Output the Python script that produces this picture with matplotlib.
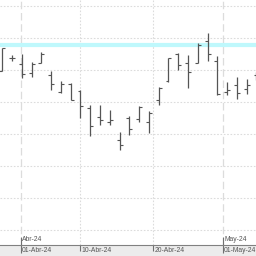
import matplotlib
matplotlib.use("Agg")
import matplotlib.pyplot as plt
from matplotlib.transforms import blended_transform_factory

# trading days (bar index -> date)
dates = ["27-Mar-24", "28-Mar-24", "02-Abr-24", "03-Abr-24", "04-Abr-24", "05-Abr-24",
         "08-Abr-24", "09-Abr-24", "10-Abr-24", "11-Abr-24", "12-Abr-24", "15-Abr-24",
         "16-Abr-24", "17-Abr-24", "18-Abr-24", "19-Abr-24", "22-Abr-24", "23-Abr-24",
         "24-Abr-24", "25-Abr-24", "26-Abr-24", "29-Abr-24", "30-Abr-24", "02-May-24",
         "03-May-24", "06-May-24", "07-May-24"]
opens  = [2.798, 2.818, 2.809, 2.795, 2.811, 2.792, 2.765, 2.778, 2.767, 2.740, 2.726,
          2.718, 2.690, 2.724, 2.723, 2.719, 2.752, 2.782, 2.825, 2.810, 2.811, 2.845,
          2.814, 2.765, 2.776, 2.770, 2.792]
highs  = [2.834, 2.823, 2.824, 2.812, 2.827, 2.798, 2.782, 2.779, 2.769, 2.745, 2.745,
          2.737, 2.702, 2.727, 2.743, 2.735, 2.773, 2.819, 2.826, 2.823, 2.841, 2.857,
          2.821, 2.780, 2.788, 2.785, 2.796]
lows   = [2.798, 2.814, 2.787, 2.789, 2.810, 2.769, 2.764, 2.752, 2.725, 2.696, 2.714,
          2.714, 2.675, 2.698, 2.719, 2.701, 2.745, 2.781, 2.800, 2.771, 2.810, 2.814,
          2.760, 2.760, 2.754, 2.762, 2.784]
closes = [2.834, 2.819, 2.793, 2.809, 2.825, 2.778, 2.778, 2.753, 2.743, 2.712, 2.721,
          2.721, 2.683, 2.707, 2.741, 2.732, 2.771, 2.818, 2.807, 2.796, 2.839, 2.825,
          2.762, 2.769, 2.763, 2.776, 2.790]
first_index = -2          # index of the first bar (02-Abr-24 is bar 0)
level = 2.8386            # horizontal reference level (cyan)

tick_labels = ["01-Abr-24", "10-Abr-24", "20-Abr-24", "01-May-24"]
tick_pos = [-0.1, 6.0, 13.45, 20.6]
month_labels = ["Abr-24", "May-24"]
month_pos = [-0.1, 20.6]
y_grid = [2.55, 2.60, 2.65, 2.70, 2.75, 2.80, 2.85, 2.90]

W = 256
fig = plt.figure(figsize=(2.56, 2.56), dpi=100)
fig.patch.set_facecolor("white")
band = fig.add_axes([0, 0, 1, 11 / W])
band.set_facecolor("#ececec")
band.set_xticks([]); band.set_yticks([])
for s in band.spines.values():
    s.set_visible(False)

ax = fig.add_axes([0, 11 / W, 1, 245 / W])
ax.set_facecolor("white")
xs = [first_index + k for k in range(len(opens))]

ax.axhline(level, color="#bff8fc", lw=3.0, zorder=1)

for yv in y_grid:
    ax.axhline(yv, color="#dcdcdc", lw=0.8, ls=(0, (1.5, 1.5)), zorder=0)
for p in tick_pos:
    if p in month_pos:
        ax.axvline(p, color="#dcdcdc", lw=0.9, ls=(0, (6, 3)), zorder=0)
    else:
        ax.axvline(p, color="#dcdcdc", lw=0.8, ls=(0, (1.5, 1.5)), zorder=0)

barc = "#555555"
ax.vlines(xs, lows, highs, color=barc, lw=0.9, zorder=3)
ax.hlines(opens, [x - 0.3 for x in xs], xs, color=barc, lw=0.8, zorder=3)
ax.hlines(closes, xs, [x + 0.3 for x in xs], color=barc, lw=0.8, zorder=3)

ax.set_xlim(-2.23, 23.95)
ax.set_ylim(2.5261, 2.9089)
ax.set_yticks([])
for side in ["top", "left", "right"]:
    ax.spines[side].set_visible(False)
ax.spines["bottom"].set_color("#808080")
ax.spines["bottom"].set_linewidth(0.8)

major = [p for p in tick_pos if p in month_pos]
minor = [p for p in tick_pos if p not in month_pos]
ax.set_xticks(major)
ax.set_xticks(minor, minor=True)
ax.set_xticklabels([])
ax.tick_params(axis="x", which="major", direction="inout", length=11.5, width=0.8, color="#707070")
ax.tick_params(axis="x", which="minor", direction="out", length=4.5, width=0.8, color="#707070")

tr = blended_transform_factory(ax.transData, ax.transAxes)
for p, lab in zip(tick_pos, tick_labels):
    ax.text(p + 0.1, -0.024, lab, transform=tr, ha="left", va="center",
            fontsize=4.9, color="#555555", family="Liberation Sans", clip_on=False)
for p, lab in zip(month_pos, month_labels):
    ax.text(p + 0.1, 0.022, lab, transform=tr, ha="left", va="center",
            fontsize=4.9, color="#555555", family="Liberation Sans", clip_on=False)

fig.savefig("out.png", dpi=100)
